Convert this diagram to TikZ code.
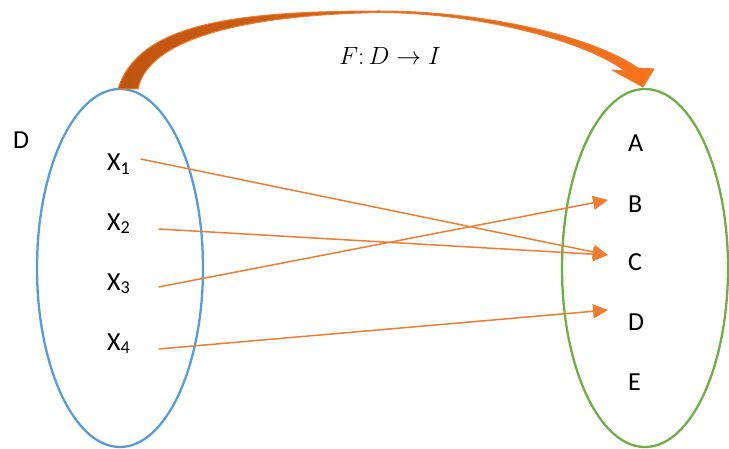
\documentclass[tikz,border=0pt]{standalone}
\usepackage{fontspec}
\setmainfont{Carlito}
\usepackage{tikz}
\usetikzlibrary{arrows.meta,shapes.geometric}
\definecolor{setblue}{RGB}{91,155,213}
\definecolor{setgreen}{RGB}{112,173,71}
\definecolor{maporange}{RGB}{237,125,49}
\definecolor{mapdark}{RGB}{190,85,15}
\definecolor{mapbright}{RGB}{248,115,30}
\tikzset{
  setring/.style={ellipse, line width=2.3pt, minimum width=166pt,
                  minimum height=358pt, inner sep=0pt},
  setD/.style   ={setring, draw=setblue},
  setI/.style   ={setring, draw=setgreen},
  elem/.style   ={inner sep=2pt, font=\fontsize{26}{30}\selectfont},
  mapline/.style={-{Triangle[length=15pt, width=14pt]}, line width=1.5pt, maporange},
  bigmap/.style ={draw=maporange, line width=1pt, line join=round,
                  left color=mapdark, right color=mapbright},
}

\begin{document}
\begin{tikzpicture}[x=1pt, y=1pt]
  \useasboundingbox (0,0) rectangle (729,448);

  % ---- the two sets --------------------------------------------------------
  \node[setD] (dom) at (120,180) {};
  \node[setI] (img) at (645,180) {};
  \node[elem, anchor=base west] (dname) at (11,299) {D};

  \node[elem, anchor=base west] (x1) at (105,277) {X\textsubscript{1}};
  \node[elem, anchor=base west] (x2) at (105,218) {X\textsubscript{2}};
  \node[elem, anchor=base west] (x3) at (105,158) {X\textsubscript{3}};
  \node[elem, anchor=base west] (x4) at (105,98)  {X\textsubscript{4}};

  \node[elem, anchor=base west] (a) at (626,296) {A};
  \node[elem, anchor=base west] (b) at (626,236) {B};
  \node[elem, anchor=base west] (c) at (626,178) {C};
  \node[elem, anchor=base west] (d) at (626,118) {D};
  \node[elem, anchor=base west] (e) at (626,58)  {E};

  % ---- the mapping, element by element --------------------------------------
  \draw[mapline] ([xshift=8,  yshift=12]x1.base east) -- ([xshift=-18, yshift=15]c.base west);
  \draw[mapline] ([xshift=26, yshift=1]x2.base east)  -- ([xshift=-18, yshift=15]c.base west);
  \draw[mapline] ([xshift=26, yshift=3]x3.base east)  -- ([xshift=-18, yshift=12]b.base west);
  \draw[mapline] ([xshift=26, yshift=1]x4.base east)  -- ([xshift=-18, yshift=20]d.base west);

  % ---- the big curved arrow from D to I ------------------------------------
  \path[bigmap] (118,359) .. controls (138,423) and (230,437) .. (380,437)
        .. controls (480,437) and (590,413) .. (638,380)
        -- (654,379) -- (643,361) -- (612,378) -- (625,377)
        .. controls (585,407) and (480,435) .. (380,435.5)
        .. controls (240,433) and (148,408) .. (138,359) -- cycle;
  \node[elem, anchor=base] (fmap) at (390,383) {$F{:}\,D\to I$};
\end{tikzpicture}
\end{document}
